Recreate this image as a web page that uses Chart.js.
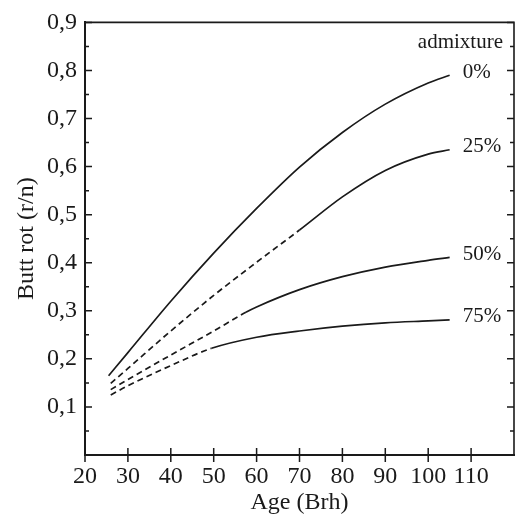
<!DOCTYPE html>
<html><head><meta charset="utf-8">
<script src="https://cdn.jsdelivr.net/npm/chart.js@4/dist/chart.umd.min.js"></script>
<style>html,body{margin:0;padding:0;background:#fff}#wrap{width:515px;height:517px}</style>
</head><body><div id="wrap"><canvas id="c" width="515" height="517"></canvas></div>
<script>
// ---- data ----
const seriesNames = ['0%', '25%', '50%', '75%'];
const legendTitle = 'admixture';

const ages0 = [25.5, 30, 40, 50, 60, 70, 80, 90, 100, 105];
const rot0  = [0.165, 0.213, 0.320, 0.420, 0.513, 0.599, 0.671, 0.730, 0.774, 0.790];

const ages25 = [26, 30, 40, 50, 60, 70, 80, 90, 100, 105];
const rot25  = [0.149, 0.180, 0.258, 0.332, 0.401, 0.468, 0.537, 0.592, 0.626, 0.635];

const ages50 = [26, 30, 40, 50, 57.5, 60, 70, 80, 90, 100, 105];
const rot50  = [0.136, 0.157, 0.208, 0.258, 0.297, 0.308, 0.344, 0.371, 0.391, 0.405, 0.411];

const ages75 = [26, 30, 40, 49.5, 60, 70, 80, 90, 100, 105];
const rot75  = [0.125, 0.144, 0.186, 0.222, 0.245, 0.258, 0.268, 0.275, 0.279, 0.281];

// age from which each curve is drawn solid (dashed before)
const solidFrom = [25.5, 70, 57.5, 49.5];

const xTickValues = [20, 30, 40, 50, 60, 70, 80, 90, 100, 110];
const yTickValues = [0.1, 0.2, 0.3, 0.4, 0.5, 0.6, 0.7, 0.8, 0.9];
const yMinorTickValues = [0.05, 0.15, 0.25, 0.35, 0.45, 0.55, 0.65, 0.75, 0.85];

// ---- chart ----
const ink = '#1a1a1a';
const serif = 'Liberation Serif';
const agesAll = [ages0, ages25, ages50, ages75];
const rotAll = [rot0, rot25, rot50, rot75];

const datasets = seriesNames.map((name, i) => ({
  label: name,
  data: agesAll[i].map((a, j) => ({x: a, y: rotAll[i][j]})),
  borderColor: ink,
  borderWidth: 1.7,
  pointRadius: 0,
  cubicInterpolationMode: 'monotone',
  fill: false,
  segment: {
    borderDash: ctx => (ctx.p1.parsed.x <= solidFrom[i] + 1e-9 && solidFrom[i] > agesAll[i][0]) ? [6, 4] : undefined
  }
}));

const decor = {
  id: 'decor',
  afterDatasetsDraw(chart) {
    const {ctx, chartArea: a, scales: {x, y}} = chart;
    ctx.save();
    ctx.strokeStyle = ink;
    ctx.lineWidth = 1.6;
    ctx.beginPath();
    ctx.moveTo(a.left, a.top); ctx.lineTo(a.right, a.top); ctx.lineTo(a.right, a.bottom);
    ctx.stroke();
    ctx.lineWidth = 1.5;
    ctx.beginPath();
    for (const v of xTickValues) {
      const px = x.getPixelForValue(v);
      ctx.moveTo(px, a.bottom - 7); ctx.lineTo(px, a.bottom + 7);
    }
    for (const v of yTickValues) {
      const py = y.getPixelForValue(v);
      ctx.moveTo(a.left, py); ctx.lineTo(a.left + 7, py);
      ctx.moveTo(a.right, py); ctx.lineTo(a.right - 7, py);
    }
    for (const v of yMinorTickValues) {
      const py = y.getPixelForValue(v);
      ctx.moveTo(a.left, py); ctx.lineTo(a.left + 4, py);
      ctx.moveTo(a.right, py); ctx.lineTo(a.right - 4, py);
    }
    ctx.stroke();
    // series labels at curve ends
    ctx.fillStyle = ink;
    ctx.font = '21px "' + serif + '"';
    ctx.textAlign = 'left';
    ctx.textBaseline = 'middle';
    chart.data.datasets.forEach((ds, i) => {
      const pts = chart.getDatasetMeta(i).data;
      const p = pts[pts.length - 1];
      ctx.fillText(ds.label, p.x + 13, p.y - 3);
    });
    ctx.textAlign = 'right';
    ctx.fillText(legendTitle, a.right - 11, a.top + 20);
    ctx.restore();
  }
};

new Chart(document.getElementById('c'), {
  type: 'line',
  data: {datasets},
  options: {
    responsive: false,
    animation: false,
    layout: {padding: {top: 22, right: 1, left: 0, bottom: 0}},
    plugins: {legend: {display: false}, tooltip: {enabled: false}},
    scales: {
      x: {
        type: 'linear', min: 20, max: 120,
        afterBuildTicks: s => { s.ticks = xTickValues.map(v => ({value: v})); },
        afterFit: s => { s.height = 62; },
        ticks: {autoSkip: false, maxRotation: 0, padding: 7, color: ink,
                font: {family: serif, size: 24}, callback: v => String(v)},
        grid: {display: true, drawOnChartArea: false, drawTicks: false},
        border: {display: true, color: ink, width: 2},
        title: {display: true, text: 'Age (Brh)', color: ink,
                font: {family: serif, size: 24}, padding: {top: 0, bottom: 0}}
      },
      y: {
        type: 'linear', min: 0, max: 0.9,
        afterBuildTicks: s => { s.ticks = yTickValues.map(v => ({value: v})); },
        afterFit: s => { s.width = 85; },
        ticks: {padding: 8, color: ink, font: {family: serif, size: 24},
                callback: v => v.toFixed(1).replace('.', ',')},
        grid: {display: true, drawOnChartArea: false, drawTicks: false},
        border: {display: true, color: ink, width: 2},
        title: {display: true, text: 'Butt rot (r/n)', color: ink,
                font: {family: serif, size: 24}, padding: {top: 12, bottom: 0}}
      }
    }
  },
  plugins: [decor]
});
</script>
</body></html>
